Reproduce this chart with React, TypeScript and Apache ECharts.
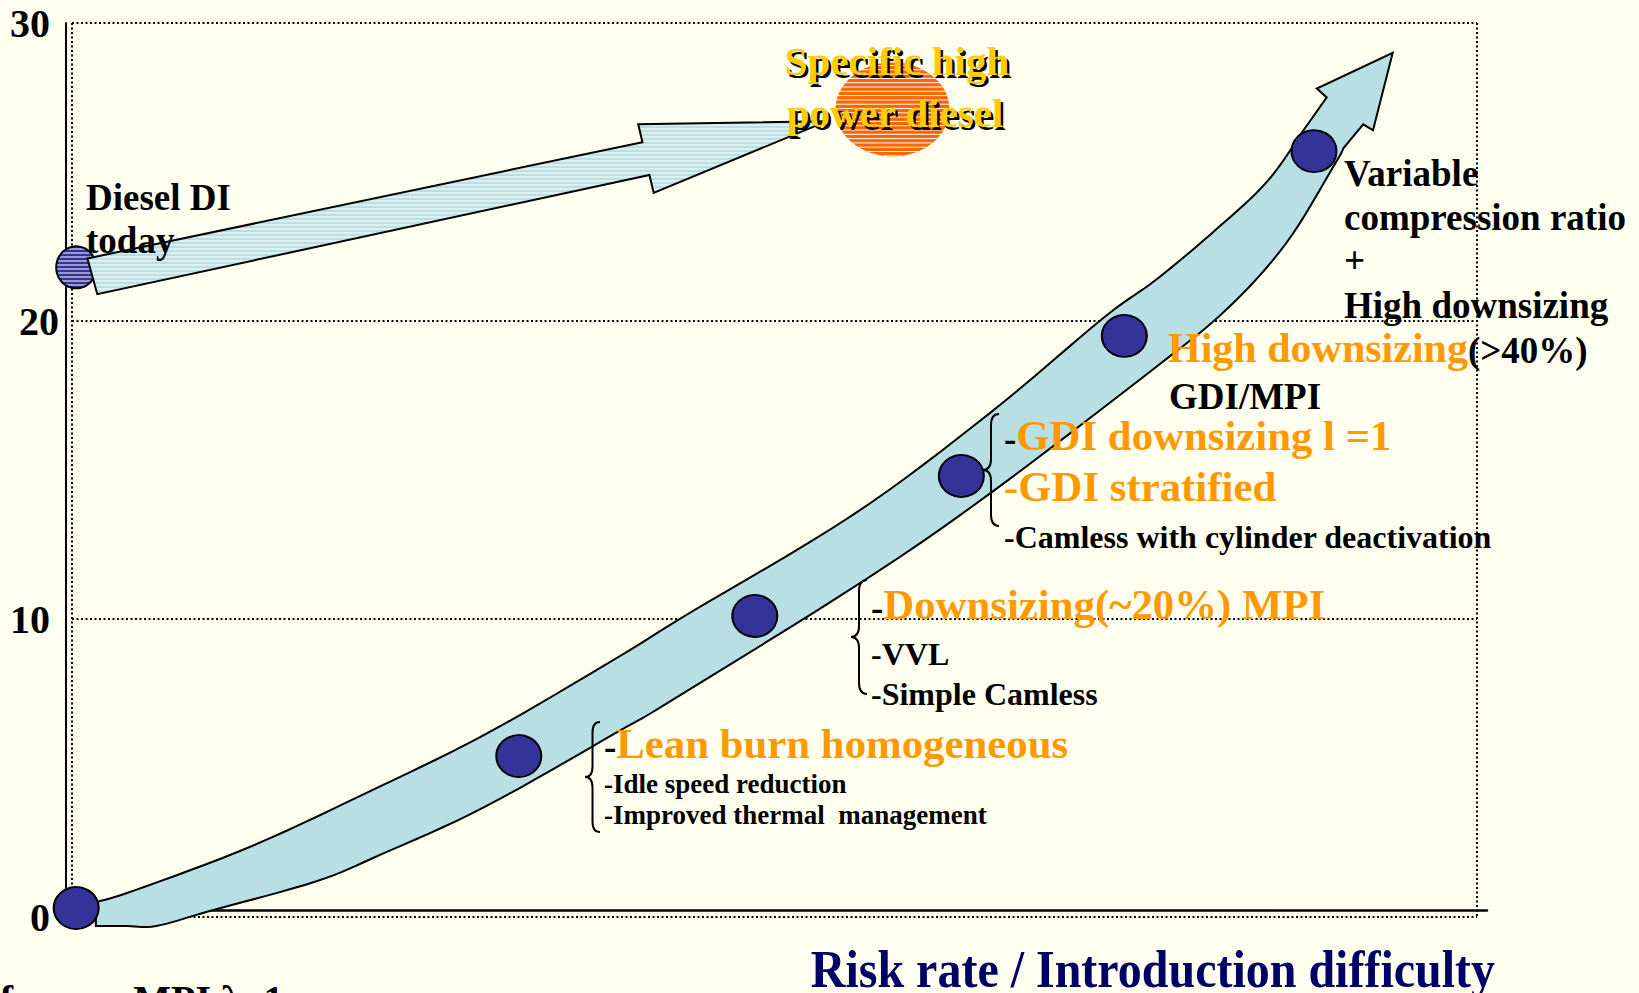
import React, { useEffect, useRef } from "react";
import * as echarts from "echarts";

// ---------- data (axis units: x 0..100, y 0..30) ----------
const yTicks = [0, 10, 20, 30];
const milestonePoints = [
  [0.3, 0.3],
  [31.8, 5.4],
  [48.6, 10.1],
  [63.3, 14.8],
  [74.9, 19.5],
  [88.4, 25.7],
];
const bandUpper = [
  [1.7, 0.5], [4.5, 0.9], [12.9, 2.4], [22.0, 4.4], [29.7, 6.2], [38.8, 8.7],
  [43.6, 10.1], [55.6, 13.5], [65.3, 16.9], [73.4, 20.1], [77.2, 21.4],
  [81.5, 23.1], [85.1, 24.7], [87.8, 26.5], [89.3, 27.5],
];
const bandHead = [[88.6, 27.8], [94.0, 29.0], [92.6, 26.4], [91.9, 26.6]];
const bandLower = [
  [90.5, 25.8], [89.8, 25.2], [86.4, 22.6], [82.2, 20.4], [77.0, 18.4],
  [65.3, 14.2], [56.4, 11.3], [42.8, 7.3], [38.8, 6.2],
  [29.4, 3.7], [22.0, 2.1], [17.4, 1.2], [9.8, 0.2], [6.0, -0.3],
  [3.7, -0.3], [1.7, -0.3],
];
const dieselArrow = [
  [1.1, 22.1], [40.6, 26.0], [40.3, 26.6], [53.7, 26.7], [41.4, 24.3],
  [41.1, 24.9], [1.8, 20.9],
];
// x, y, style index (0 = diesel today, 1 = specific high power diesel)
const stripedDots = [
  [0.3, 21.8, 0],
  [58.4, 27.1, 1],
];

// ---------- styles ----------
const FONT = '"Liberation Serif", "Times New Roman", serif';
const BG = "#FFFFF0";
const BAND = "#B8E0E4";
const NAVY = "#333399";
const ORANGE = "#FF9900";
const YELLOW = "#FFCC00";
const OR = 42.8; // orange headline size
const ELLIPSE_STYLES = [
  { rx: 20, ry: 21, fill: NAVY, stroke: "#000", step: 4, lw: 1 },
  { rx: 57, ry: 47, fill: "#FF6600", stroke: null, step: 4.3, lw: 1 },
];

// ---------- helpers ----------
function smooth(pts: number[][], seg = 8) {
  const out: number[][] = [];
  const n = pts.length;
  for (let i = 0; i < n - 1; i++) {
    const p0 = pts[Math.max(0, i - 1)], p1 = pts[i], p2 = pts[i + 1], p3 = pts[Math.min(n - 1, i + 2)];
    for (let s = 0; s < seg; s++) {
      const t = s / seg, t2 = t * t, t3 = t2 * t;
      const f = (k: number) =>
        0.5 * (2 * p1[k] + (-p0[k] + p2[k]) * t + (2 * p0[k] - 5 * p1[k] + 4 * p2[k] - p3[k]) * t2 +
          (-p0[k] + 3 * p1[k] - 3 * p2[k] + p3[k]) * t3);
      out.push([f(0), f(1)]);
    }
  }
  out.push(pts[n - 1]);
  return out;
}

function hatch(poly: number[][], step: number, lw: number) {
  const ys = poly.map((p) => p[1]);
  const minY = Math.min(...ys), maxY = Math.max(...ys);
  const els: any[] = [];
  const n = poly.length;
  for (let y = Math.ceil(minY / step) * step + 1; y < maxY; y += step) {
    const xs: number[] = [];
    for (let i = 0; i < n; i++) {
      const a = poly[i], b = poly[(i + 1) % n];
      if ((a[1] <= y && b[1] > y) || (b[1] <= y && a[1] > y)) {
        xs.push(a[0] + ((y - a[1]) / (b[1] - a[1])) * (b[0] - a[0]));
      }
    }
    xs.sort((p, q) => p - q);
    for (let k = 0; k + 1 < xs.length; k += 2) {
      els.push({
        type: "line",
        shape: { x1: xs[k], y1: y, x2: xs[k + 1], y2: y },
        style: { stroke: "#FFFFFF", lineWidth: lw },
      });
    }
  }
  return els;
}

type Part = [string, number, string];
function rt(x: number, base: number, parts: Part[], align: string = "left", extra: any = {}) {
  const maxF = Math.max(...parts.map((p) => p[1]));
  const rich: any = {};
  let text = "";
  parts.forEach((p, i) => {
    rich["p" + i] = {
      fontSize: p[1], fontFamily: FONT, fontWeight: "bold", fill: p[2],
      lineHeight: p[1], verticalAlign: "bottom",
    };
    text += `{p${i}|${p[0]}}`;
  });
  return {
    type: "text", z: 100, x, y: base - 0.8375 * maxF,
    style: { text, rich, align, textAlign: align, verticalAlign: "top", textVerticalAlign: "top" },
    ...extra,
  };
}

const Brace = (echarts.graphic as any).extendShape({
  shape: { x: 0, y: 0, w: 0, h: 0 },
  buildPath(ctx: any, s: any) {
    const { x, y, w, h } = s;
    const m = y + h / 2, r = w / 2;
    ctx.moveTo(x + w, y);
    ctx.quadraticCurveTo(x + r, y, x + r, y + r * 1.4);
    ctx.lineTo(x + r, m - r * 1.4);
    ctx.quadraticCurveTo(x + r, m, x, m);
    ctx.quadraticCurveTo(x + r, m, x + r, m + r * 1.4);
    ctx.lineTo(x + r, y + h - r * 1.4);
    ctx.quadraticCurveTo(x + r, y + h, x + w, y + h);
  },
});
echarts.graphic.registerShape("brace", Brace);

const brace = (x: number, y: number, w: number, h: number) => ({
  type: "brace", z: 100, shape: { x, y, w, h },
  style: { fill: "none", stroke: "#000", lineWidth: 2 },
});

const dotted = { color: "#000", width: 2, type: [2, 2.5] as any };

function buildOption(): any {
  const labelStyle = { fontSize: 40, fontWeight: "bold", fontFamily: FONT, color: "#000" };
  return {
    animation: false,
    backgroundColor: BG,
    grid: [
      { left: 72, right: 162, top: 23, bottom: 76 },
      { left: 66, right: 152, top: 23, bottom: 83 },
    ],
    xAxis: [
      {
        type: "value", gridIndex: 0, min: 0, max: 100, interval: 100,
        axisLine: { show: false }, axisTick: { show: false }, axisLabel: { show: false },
        splitLine: { show: true, lineStyle: dotted },
      },
      {
        type: "value", gridIndex: 1, min: 0, max: 1,
        axisLine: { show: true, onZero: false, lineStyle: { color: "#000", width: 2.5 } },
        axisTick: { show: false }, axisLabel: { show: false }, splitLine: { show: false },
      },
    ],
    yAxis: [
      {
        type: "value", gridIndex: 0, min: yTicks[0], max: yTicks[yTicks.length - 1], interval: 10,
        axisLine: { show: false }, axisTick: { show: false },
        axisLabel: {
          show: true, margin: 13, ...labelStyle,
          formatter: (v: number) => (v === 20 ? `{s|${v}}` : yTicks.includes(v) ? `{n|${v}}` : ""),
          rich: {
            n: { ...labelStyle, padding: [0, 9, 0, 0] },
            s: { ...labelStyle, padding: [0, 0, 0, 0] },
          },
        },
        splitLine: { show: true, lineStyle: dotted },
      },
      {
        type: "value", gridIndex: 1, min: 0, max: 1,
        axisLine: { show: true, onZero: false, lineStyle: { color: "#000", width: 2 } },
        axisTick: { show: false }, axisLabel: { show: false }, splitLine: { show: false },
      },
    ],
    series: [
      {
        name: "Roadmap band", type: "custom", xAxisIndex: 0, yAxisIndex: 0, z: 2, clip: false, silent: true,
        data: [[0, 0]],
        renderItem: (_p: any, api: any) => {
          const up = smooth(bandUpper.map((p) => api.coord(p)));
          const head = bandHead.map((p) => api.coord(p));
          const low = smooth(bandLower.map((p) => api.coord(p)));
          return {
            type: "polygon",
            shape: { points: [...up, ...head, ...low] },
            style: { fill: BAND, stroke: "#000", lineWidth: 2 },
          };
        },
      },
      {
        name: "Striped dots", type: "custom", xAxisIndex: 0, yAxisIndex: 0, z: 3, clip: false, silent: true,
        data: stripedDots,
        renderItem: (_p: any, api: any) => {
          const c = api.coord([api.value(0), api.value(1)]);
          const st = ELLIPSE_STYLES[api.value(2)];
          const poly: number[][] = [];
          for (let i = 0; i < 90; i++) {
            const a = (i / 90) * Math.PI * 2;
            poly.push([c[0] + st.rx * Math.cos(a), c[1] + st.ry * Math.sin(a)]);
          }
          const children: any[] = [
            { type: "polygon", shape: { points: poly }, style: { fill: st.fill } },
            ...hatch(poly, st.step, st.lw),
          ];
          if (st.stroke) {
            children.push({ type: "polygon", shape: { points: poly }, style: { fill: "none", stroke: st.stroke, lineWidth: 2 } });
          }
          return { type: "group", children };
        },
      },
      {
        name: "Diesel arrow", type: "custom", xAxisIndex: 0, yAxisIndex: 0, z: 4, clip: false, silent: true,
        data: [[0, 0]],
        renderItem: (_p: any, api: any) => {
          const poly = dieselArrow.map((p) => api.coord(p));
          return {
            type: "group",
            children: [
              { type: "polygon", shape: { points: poly }, style: { fill: BAND } },
              ...hatch(poly, 4, 1.1),
              { type: "polygon", shape: { points: poly }, style: { fill: "none", stroke: "#000", lineWidth: 2 } },
            ],
          };
        },
      },
      {
        name: "Milestones", type: "scatter", xAxisIndex: 0, yAxisIndex: 0, z: 5, silent: true,
        symbol: "circle", symbolSize: [45, 42],
        itemStyle: { color: NAVY, borderColor: "#000", borderWidth: 2, opacity: 1 },
        data: milestonePoints,
      },
    ],
    graphic: {
      elements: [
        // Specific high power diesel (shadowed yellow)
        rt(899.5, 77.5, [["Specific high", 41, "#000"]], "center"),
        rt(897, 75, [["Specific high", 41, YELLOW]], "center"),
        rt(897.5, 129.5, [["power diesel", 41, "#000"]], "center"),
        rt(895, 127, [["power diesel", 41, YELLOW]], "center"),
        rt(86, 210, [["Diesel DI", 37, "#000"]]),
        rt(86, 253, [["today", 37, "#000"]]),
        rt(1344, 186, [["Variable", 37, "#000"]]),
        rt(1344, 230, [["compression ratio", 37, "#000"]]),
        rt(1344, 273, [["+", 37, "#000"]]),
        rt(1344, 318, [["High downsizing", 37, "#000"]]),
        rt(1168, 362, [["High downsizing", 42, ORANGE], ["(>40%)", 37, "#000"]]),
        rt(1169, 409, [["GDI/MPI", 37, "#000"]]),
        rt(1004, 450, [["-", 37, "#000"], ["GDI downsizing l =1", OR, ORANGE]]),
        rt(1004, 501, [["-GDI stratified", OR, ORANGE]]),
        rt(1004, 548, [["-Camless with cylinder deactivation", 32, "#000"]]),
        rt(871, 619, [["-", 37, "#000"], ["Downsizing(~20%) MPI", OR, ORANGE]]),
        rt(871, 665, [["-VVL", 32, "#000"]]),
        rt(871, 705, [["-Simple Camless", 32, "#000"]]),
        rt(604, 758, [["-", 37, "#000"], ["Lean burn homogeneous", OR, ORANGE]]),
        rt(604, 793, [["-Idle speed reduction", 27, "#000"]]),
        rt(604, 824, [["-Improved thermal  management", 27, "#000"]]),
        rt(-47, 1013, [["Reference MPI λ=1", 40, "#000"]]),
        {
          type: "text", z: 100, x: 1495, y: 943, scaleY: 1.1,
          style: {
            text: "Risk rate / Introduction difficulty", fill: "#000066",
            font: `bold 48px ${FONT}`, align: "right", textAlign: "right",
            verticalAlign: "top", textVerticalAlign: "top",
          },
        },
        brace(585, 722, 15, 110),
        brace(851, 580, 16, 114),
        brace(983, 414, 16, 112),
      ],
    },
  };
}

export default function App() {
  const ref = useRef<HTMLDivElement>(null);
  useEffect(() => {
    if (!ref.current) return;
    const chart = echarts.init(ref.current, null, { renderer: "svg" });
    chart.setOption(buildOption());
    return () => chart.dispose();
  }, []);
  return (
    <div
      ref={ref}
      style={{ position: "absolute", left: 0, top: 0, width: 1639, height: 993, background: BG, overflow: "hidden" }}
    />
  );
}
